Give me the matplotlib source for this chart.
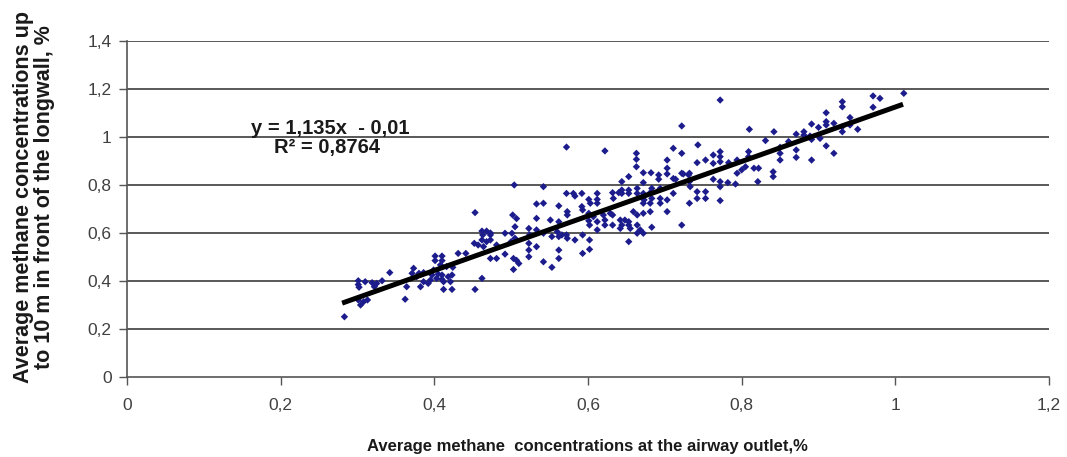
import matplotlib
matplotlib.use('Agg')
import matplotlib.pyplot as plt
import numpy as np

# average methane concentration at the airway outlet, %
outlet = [
    .283, .301, .310, .319, .325, .332, .302, .322, .301, .301, .308, .313, .304, .342, .362,
    .504, .453, .502, .507, .462, .468, .473, .463, .473, .462, .468, .473, .452, .457, .464, .481, .492, .501, .505, .505, .500,
    .431, .441, .473, .481, .492, .503, .510, .503, .507,
    .401, .410, .401, .410, .408, .399, .416, .424, .386, .397, .405, .410, .418, .423, .403,
    .395, .410, .373, .371, .377, .380, .386, .392, .382, .364, .412, .423, .453, .462, .412, .421,
    .622, .663, .663, .663, .703, .703, .722, .653, .672, .682, .692, .703, .714, .724, .731, .692,
    .644, .672, .664, .683, .694, .542, .572, .581, .592, .583, .612, .601, .612, .603, .612,
    .632, .640, .644, .653, .644, .653, .633, .664, .672, .681, .683, .673, .694, .703, .711, .732,
    .672, .681, .694, .533, .542, .562, .573, .573, .533, .551, .562, .592, .593, .601, .607,
    .601, .602, .612, .612, .620, .622, .622, .629, .632, .632, .642, .644, .648, .653, .653, .655,
    .659, .664, .672, .681, .703, .664, .668, .683, .722, .732,
    .523, .524, .533, .542, .553, .560, .562, .566, .572, .573, .583, .593, .602, .642, .653, .664, .672,
    .523, .523, .523, .533, .542, .553, .562, .562, .593, .602, .572,
    .722, .810, .831, .711, .743, .742, .753, .763, .763, .772, .772, .772, .783, .794, .809, .809,
    .805, .816, .822, .800, .794, .763, .772, .782, .792, .772, .821, .742, .753, .742, .753, .772,
    .733, .722, .732, .711,
    .772, .842, .841, .841, .850, .850, .850, .861, .871, .881, .881, .871, .871, .891, .891, .891, .889,
    .900, .900, .902, .910, .910, .910, .910, .920, .920, .931, .931, .931, .931, .941, .941, .951, .971, .971, .980, 1.011,
]

# average methane concentration up to 10 m in front of the longwall, %
front = [
    .251, .401, .397, .393, .390, .401, .374, .376, .385, .321, .314, .321, .300, .435, .324,
    .800, .685, .675, .660, .608, .608, .600, .592, .592, .571, .564, .571, .557, .550, .543, .550, .599, .599, .626, .578, .564,
    .515, .515, .494, .494, .512, .494, .473, .448, .486,
    .504, .504, .485, .485, .467, .446, .460, .457, .435, .425, .429, .425, .418, .425, .411,
    .404, .407, .453, .432, .418, .432, .397, .390, .376, .376, .365, .365, .365, .411, .397, .397,
    .942, .932, .907, .876, .904, .870, .932, .835, .851, .851, .842, .846, .824, .846, .842, .824,
    .814, .810, .786, .786, .786, .793, .765, .765, .765, .754, .765, .740, .740, .724, .724,
    .768, .768, .779, .779, .765, .765, .744, .765, .765, .768, .744, .738, .744, .738, .765, .814,
    .724, .724, .724, .721, .724, .713, .689, .675, .661, .654, .647, .710, .696, .682, .668,
    .651, .633, .647, .613, .675, .654, .633, .682, .675, .633, .654, .633, .654, .647, .633, .619,
    .689, .675, .682, .689, .689, .633, .613, .624, .633, .724,
    .619, .592, .613, .599, .585, .605, .585, .592, .592, .578, .571, .592, .571, .619, .564, .599, .599,
    .557, .529, .501, .543, .480, .457, .529, .494, .515, .532, .958,
    1.046, 1.032, .985, .953, .967, .893, .904, .925, .890, .939, .918, .897, .893, .904, .939, .918,
    .876, .870, .870, .863, .849, .824, .814, .810, .804, .793, .814, .772, .772, .744, .744, .735,
    .793, .849, .849, .827,
    1.154, 1.022, .855, .835, .957, .932, .904, .981, 1.012, 1.022, 1.008, .946, .915, 1.054, .990, .904, 1.004,
    1.040, 1.008, .994, 1.101, 1.064, 1.050, .963, 1.057, .932, 1.147, 1.126, 1.043, 1.022, 1.081, 1.050, 1.032, 1.171, 1.124, 1.161, 1.182,
]

# trend line y = 1,135x - 0,01
slope = 1.135
intercept = -0.01
trend_range = [0.28, 1.01]

x_ticks = [0, 0.2, 0.4, 0.6, 0.8, 1.0, 1.2]
x_labels = ['0', '0,2', '0,4', '0,6', '0,8', '1', '1,2']
y_ticks = [0, 0.2, 0.4, 0.6, 0.8, 1.0, 1.2, 1.4]
y_labels = ['0', '0,2', '0,4', '0,6', '0,8', '1', '1,2', '1,4']

sans = ['Liberation Sans', 'DejaVu Sans']

fig = plt.figure(figsize=(10.67, 4.57), dpi=100)
ax = fig.add_axes([127 / 1067, 1 - 377 / 457, 922 / 1067, 336 / 457])

ax.set_xlim(0, 1.2)
ax.set_ylim(0, 1.4)

# horizontal gridlines
for t in y_ticks[1:]:
    ax.axhline(t, color='#2b2b2b', lw=1.1, zorder=1)

ax.scatter(outlet, front, marker='D', s=14, color='#1c1c8c', edgecolors='none', zorder=3)

tx = np.array(trend_range)
ax.plot(tx, slope * tx + intercept, color='black', lw=3.6, solid_capstyle='butt', zorder=4)

ax.text(0.265, 1.035, 'y = 1,135x  - 0,01', ha='center', va='center',
        fontsize=14.5, fontweight='bold', family=sans, color='#1a1a1a', zorder=5)
ax.text(0.26, 0.955, 'R² = 0,8764', ha='center', va='center',
        fontsize=14.5, fontweight='bold', family=sans, color='#1a1a1a', zorder=5)

ax.set_xticks(x_ticks)
ax.set_xticklabels(x_labels, family=sans, fontsize=12.5, color='#404040')
ax.set_yticks(y_ticks)
ax.set_yticklabels(y_labels, family=sans, fontsize=12.5, color='#404040')
ax.tick_params(axis='both', direction='out', length=6, width=1, color='#555555')
ax.tick_params(axis='x', pad=9)
ax.tick_params(axis='y', pad=5)

for side in ['top', 'right']:
    ax.spines[side].set_visible(False)
for side in ['left', 'bottom']:
    ax.spines[side].set_color('#555555')
    ax.spines[side].set_linewidth(1.2)

fig.text(0.551, 0.022, 'Average methane  concentrations at the airway outlet,%', ha='center', va='center',
         fontsize=12, fontweight='bold', family=sans, color='#1a1a1a')
fig.text(0.032, 0.568, 'Average methane concentrations up\nto 10 m in front of the longwall, %',
         ha='center', va='center', rotation=90, fontsize=15.5, fontweight='bold',
         family=sans, color='#1a1a1a', linespacing=1.0)

fig.savefig('out.png', dpi=100)
